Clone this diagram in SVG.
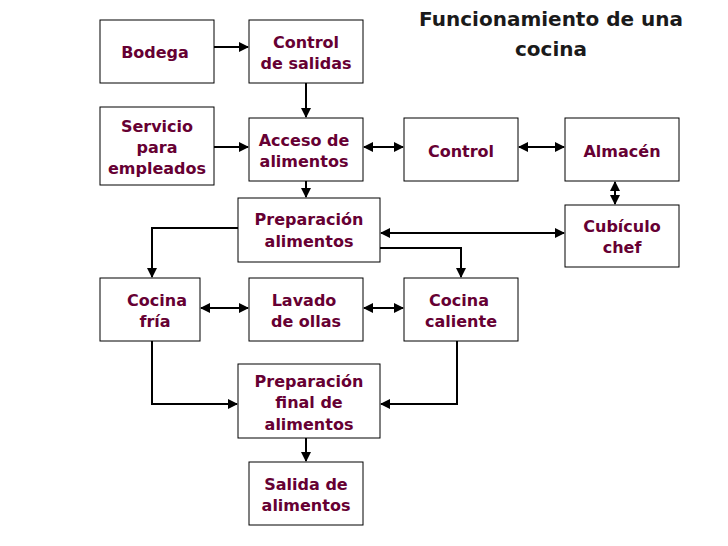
<svg xmlns="http://www.w3.org/2000/svg" width="728" height="546" viewBox="0 0 728 546">
<style>
.n rect{fill:#fff;stroke:#000;stroke-width:1}
text{font-family:"DejaVu Sans",Verdana,sans-serif;font-weight:bold;font-size:16px;fill:#660033;text-anchor:middle}
.t{font-size:20px;fill:#1a1a1a}
.c path{fill:none;stroke:#000;stroke-width:2}
</style>
<defs>
<marker id="a" viewBox="0 0 10 10" refX="9" refY="5" markerWidth="5" markerHeight="5" orient="auto-start-reverse"><path d="M0,0L10,5L0,10z" fill="#000"/></marker>
</defs>
<rect width="728" height="546" fill="#fff"/>
<text class="t" x="551" y="26">Funcionamiento de una</text>
<text class="t" x="551" y="56">cocina</text>
<g class="c">
<path d="M214,47H248" marker-end="url(#a)"/>
<path d="M306,83V117" marker-end="url(#a)"/>
<path d="M214,147H248" marker-end="url(#a)"/>
<path d="M364,147H403" marker-start="url(#a)" marker-end="url(#a)"/>
<path d="M519,147H564" marker-start="url(#a)" marker-end="url(#a)"/>
<path d="M615,182V204" marker-start="url(#a)" marker-end="url(#a)"/>
<path d="M306,181V197" marker-end="url(#a)"/>
<path d="M381,233H564" marker-start="url(#a)" marker-end="url(#a)"/>
<path d="M238,228H152V277" marker-end="url(#a)"/>
<path d="M380,248H461V277" marker-end="url(#a)"/>
<path d="M201,308H248" marker-start="url(#a)" marker-end="url(#a)"/>
<path d="M364,308H403" marker-start="url(#a)" marker-end="url(#a)"/>
<path d="M152,341V404H237" marker-end="url(#a)"/>
<path d="M457,341V404H381" marker-end="url(#a)"/>
<path d="M306,438V461" marker-end="url(#a)"/>
</g>
<g class="n" id="bodega"><rect x="100" y="20" width="114" height="63"/><text x="155" y="58">Bodega</text></g>
<g class="n" id="control-salidas"><rect x="249" y="20" width="114" height="63"/><text x="306" y="48">Control</text><text x="306" y="69">de salidas</text></g>
<g class="n" id="servicio"><rect x="100" y="107" width="114" height="78"/><text x="157" y="132">Servicio</text><text x="157" y="153">para</text><text x="157" y="174">empleados</text></g>
<g class="n" id="acceso"><rect x="249" y="118" width="114" height="63"/><text x="304" y="146">Acceso de</text><text x="304" y="167">alimentos</text></g>
<g class="n" id="control"><rect x="404" y="118" width="114" height="63"/><text x="461" y="157">Control</text></g>
<g class="n" id="almacen"><rect x="565" y="118" width="114" height="63"/><text x="622" y="157">Almacén</text></g>
<g class="n" id="preparacion"><rect x="238" y="198" width="142" height="64"/><text x="309" y="225">Preparación</text><text x="309" y="247">alimentos</text></g>
<g class="n" id="cubiculo"><rect x="565" y="205" width="114" height="62"/><text x="622" y="232">Cubículo</text><text x="622" y="253">chef</text></g>
<g class="n" id="cocina-fria"><rect x="100" y="278" width="100" height="63"/><text x="157" y="306">Cocina</text><text x="155" y="327">fría</text></g>
<g class="n" id="lavado"><rect x="249" y="278" width="114" height="63"/><text x="304" y="306">Lavado</text><text x="306" y="327">de ollas</text></g>
<g class="n" id="cocina-caliente"><rect x="404" y="278" width="114" height="63"/><text x="459" y="306">Cocina</text><text x="461" y="327">caliente</text></g>
<g class="n" id="prep-final"><rect x="238" y="364" width="142" height="74"/><text x="309" y="387">Preparación</text><text x="309" y="408">final de</text><text x="309" y="430">alimentos</text></g>
<g class="n" id="salida"><rect x="249" y="462" width="114" height="63"/><text x="306" y="490">Salida de</text><text x="306" y="511">alimentos</text></g>
</svg>
